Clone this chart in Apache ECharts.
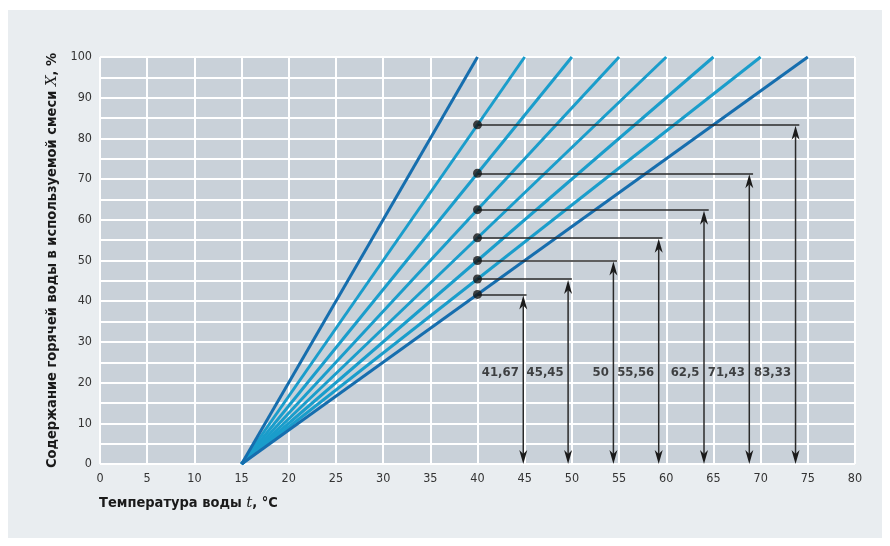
<!DOCTYPE html>
<html>
<head>
<meta charset="utf-8">
<script src="https://cdn.jsdelivr.net/npm/echarts@6/dist/echarts.min.js"></script>
<style>
html,body{margin:0;padding:0;background:#fff;}
#chart{width:890px;height:546px;}
</style>
</head>
<body>
<div id="chart"></div>
<script>
// ---- data ----
const startTemp = 15;                                   // all lines start at (15, 0)
const endTemps = [40, 45, 50, 55, 60, 65, 70, 75];      // temperature where each line reaches 100 %
const dotTemp = 40;                                     // marked points at t = 40
const mixValues = [83.33, 71.43, 62.5, 55.56, 50, 45.45, 41.67];
const arrowTemps = [73.7, 68.8, 64.0, 59.2, 54.4, 49.6, 44.85];
const hlineEnds = [74.1, 69.2, 64.5, 59.6, 54.8, 50.0, 45.2];
const valueLabels = ['83,33', '71,43', '62,5', '55,56', '50', '45,45', '41,67'];
const labelLevel = 22.4;
const xTicks = [0, 80, 5];
const yTicks = [0, 100, 5];

// ---- chart ----
const DARK = '#166eae', LIGHT = '#1a9dcb';
const NARROW = "'Liberation Sans Narrow','DejaVu Sans Condensed',sans-serif";
const chart = echarts.init(document.getElementById('chart'), null, {renderer: 'canvas'});

const series = [];
endTemps.forEach((t, i) => {
  const dark = (i === 0 || i === endTemps.length - 1);
  series.push({
    type: 'line', data: [[startTemp, 0], [t, 100]], showSymbol: false, silent: true,
    lineStyle: {width: 3, color: dark ? DARK : LIGHT}, z: dark ? 4 : 3
  });
});
// horizontal leader lines
series.push({
  type: 'lines', coordinateSystem: 'cartesian2d', silent: true, z: 5,
  symbol: 'none',
  lineStyle: {color: '#2a2a2a', width: 1.5, opacity: 1},
  data: mixValues.map((v, i) => ({coords: [[dotTemp, v], [hlineEnds[i], v]]}))
});
// vertical double arrows (shaft + heads), drawn via the axis scales
series.push({
  type: 'custom', coordinateSystem: 'cartesian2d', silent: true, z: 6,
  data: mixValues.map((v, i) => [arrowTemps[i], v]),
  renderItem: function (params, api) {
    const top = api.coord([api.value(0), api.value(1)]);
    const bot = api.coord([api.value(0), 0]);
    const x = top[0], yT = top[1] + 1, yB = bot[1];
    const W = 4, H = 14, N = 10;
    return {
      type: 'group',
      children: [
        {type: 'line', shape: {x1: x, y1: yT + N, x2: x, y2: yB - N},
         style: {stroke: '#2a2a2a', lineWidth: 1.5}},
        {type: 'polygon', shape: {points: [[x, yT], [x - W, yT + H], [x, yT + N], [x + W, yT + H]]},
         style: {fill: '#1a1a1a'}},
        {type: 'polygon', shape: {points: [[x, yB], [x - W, yB - H], [x, yB - N], [x + W, yB - H]]},
         style: {fill: '#1a1a1a'}}
      ]
    };
  }
});
// dots
series.push({
  type: 'scatter', silent: true, z: 7, symbolSize: 9,
  itemStyle: {color: '#151515'},
  data: mixValues.map(v => [dotTemp, v])
});
// value labels
series.push({
  type: 'scatter', silent: true, z: 7, symbolSize: 1,
  itemStyle: {color: 'rgba(0,0,0,0)'},
  label: {show: true, position: 'left', distance: 4, formatter: p => p.name,
          fontFamily: NARROW, fontWeight: 'bold', fontSize: 13, color: '#1a1a1a'},
  data: valueLabels.map((s, i) => ({name: s, value: [arrowTemps[i], labelLevel]}))
});

chart.setOption({
  animation: false,
  backgroundColor: '#ffffff',
  graphic: [
    {type: 'rect', z: -10, silent: true, shape: {x: 8, y: 10, width: 874, height: 528}, style: {fill: '#e9edf0'}},
    {type: 'text', left: 99, top: 496, silent: true, style: {
      rich: {
        b: {fontFamily: NARROW, fontWeight: 'bold', fontSize: 14.5, fill: '#1a1a1a'},
        i: {fontFamily: "'DejaVu Serif','Liberation Serif',serif", fontStyle: 'italic', fontSize: 15, fill: '#1a1a1a'}
      },
      text: '{b|Температура воды }{i|t}{b|, °C}'
    }}
  ],
  grid: {left: 100, right: 35, top: 57, bottom: 82, show: true, backgroundColor: '#c9d1d9', borderWidth: 0},
  xAxis: {
    type: 'value', min: xTicks[0], max: xTicks[1], interval: xTicks[2],
    axisLine: {show: false}, axisTick: {show: false},
    axisLabel: {fontFamily: NARROW, fontSize: 12.5, color: '#333', margin: 8},
    splitLine: {show: true, lineStyle: {color: '#ffffff', width: 2}}
  },
  yAxis: {
    type: 'value', min: yTicks[0], max: yTicks[1], interval: yTicks[2],
    axisLine: {show: false}, axisTick: {show: false},
    axisLabel: {fontFamily: NARROW, fontSize: 12.5, color: '#333', margin: 8,
                formatter: v => (v % 10 === 0 ? String(v) : '')},
    splitLine: {show: true, lineStyle: {color: '#ffffff', width: 2}},
    name: '{b|Содержание горячей воды в используемой смеси }{i|X}{b|, %}',
    nameLocation: 'middle', nameGap: 34, nameRotate: 90,
    nameTextStyle: {
      rich: {
        b: {fontFamily: NARROW, fontWeight: 'bold', fontSize: 14.5, color: '#1a1a1a'},
        i: {fontFamily: "'DejaVu Serif','Liberation Serif',serif", fontStyle: 'italic', fontSize: 15, color: '#1a1a1a'}
      }
    }
  },
  series: series
});
</script>
</body>
</html>
